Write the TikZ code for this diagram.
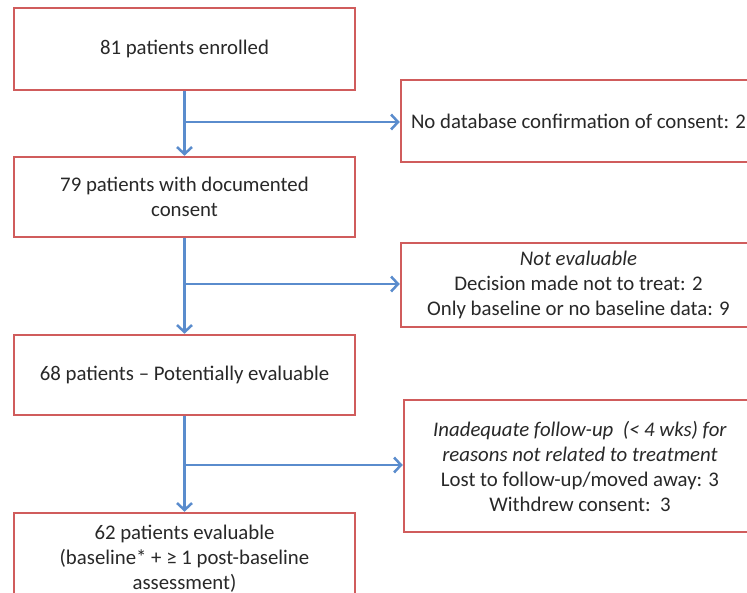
\documentclass[tikz,border=0pt]{standalone}
\usepackage{fontspec}
\setmainfont{Carlito}
\usetikzlibrary{arrows.meta}
\definecolor{boxred}{RGB}{208,92,92}
\definecolor{lineblue}{RGB}{90,140,205}
\definecolor{txt}{RGB}{40,40,40}
\begin{document}
\begin{tikzpicture}[x=1pt,y=-1pt,
  box/.style={draw=boxred,line width=2.5pt,fill=white,minimum width=341pt,inner sep=0pt,align=center,
    font=\fontsize{20.8}{25}\selectfont,text=txt},
  rbox/.style={box,minimum width=355pt},
  conn/.style={draw=lineblue,line width=2.5pt,-{Straight Barb[length=7pt,width=15pt,line width=2.5pt]}},
  plain/.style={draw=lineblue,line width=2.5pt}]
\useasboundingbox (0,0) rectangle (747,593);
\fill[white] (0,0) rectangle (747,593);
\clip (0,0) rectangle (747,593);

\node[box,minimum height=82pt] (b1) at (184.5,49) {81 patients enrolled};
\node[box,minimum height=80pt] (b2) at (184.5,197) {79 patients with documented\\consent};
\node[box,minimum height=80pt] (b3) at (184.5,375) {68 patients -- Potentially evaluable};
\node[box,minimum height=88pt,text depth=0pt] (b4) at (184.5,557) {62 patients evaluable\\(baseline* + ≥ 1 post-baseline\\assessment)};

\node[rbox,minimum height=82pt] (r1) at (578.5,121) {No database confirmation of consent: 2};
\node[rbox,minimum height=84pt] (r2) at (578.5,285) {\textit{Not evaluable}\\Decision made not to treat: 2\\Only baseline or no baseline data: 9};
\node[rbox,minimum width=352pt,minimum height=132pt] (r3) at (580,466) {\textit{Inadequate follow-up\ \ (< 4 wks) for}\\\textit{reasons not related to treatment}\\Lost to follow-up/moved away: 3\\Withdrew consent:\ \ 3};

\coordinate (j1) at (184.5,122);
\coordinate (j2) at (184.5,284);
\coordinate (j3) at (184.5,465);

\draw[conn] (b1.south) -- (b2.north);
\draw[conn] (b2.south) -- (b3.north);
\draw[conn] (b3.south) -- (b4.north);
\draw[conn] (j1) -- (j1 -| r1.west);
\draw[conn] (j2) -- (j2 -| r2.west);
\draw[conn] (j3) -- (j3 -| r3.west);
\end{tikzpicture}
\end{document}
